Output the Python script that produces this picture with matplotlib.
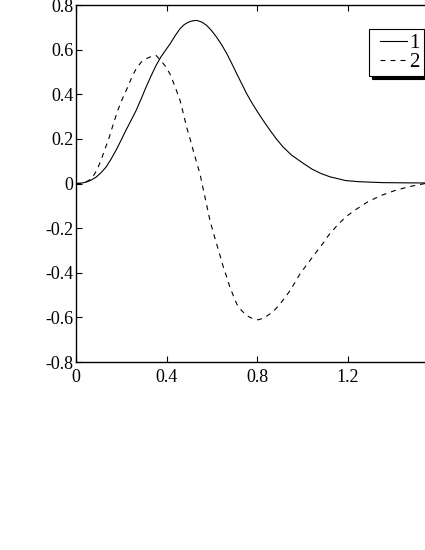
import matplotlib
matplotlib.use("Agg")
import matplotlib.pyplot as plt
from matplotlib.legend_handler import HandlerLine2D

plt.rcParams["font.family"] = ["Liberation Serif", "DejaVu Serif"]
plt.rcParams["axes.unicode_minus"] = False

# curve 1 (solid)
x1 = [0, 0.02, 0.044, 0.066, 0.088, 0.11, 0.132, 0.154, 0.176, 0.198, 0.22,
      0.243, 0.265, 0.287, 0.309, 0.331, 0.353, 0.375, 0.397, 0.415, 0.437,
      0.459, 0.477, 0.495, 0.514, 0.532, 0.554, 0.576, 0.598, 0.62, 0.643,
      0.665, 0.687, 0.709, 0.731, 0.753, 0.775, 0.797, 0.826, 0.856, 0.885,
      0.914, 0.95, 1.0, 1.04, 1.08, 1.12, 1.19, 1.25, 1.35, 1.45, 1.6]
y1 = [0, 0.001, 0.006, 0.015, 0.028, 0.048, 0.073, 0.108, 0.148, 0.192, 0.238,
      0.283, 0.327, 0.378, 0.432, 0.482, 0.529, 0.568, 0.600, 0.626, 0.662,
      0.694, 0.712, 0.723, 0.729, 0.731, 0.724, 0.709, 0.685, 0.656, 0.621,
      0.582, 0.538, 0.492, 0.447, 0.402, 0.363, 0.327, 0.282, 0.238, 0.198,
      0.163, 0.128, 0.092, 0.065, 0.045, 0.030, 0.013, 0.008, 0.004, 0.003, 0.002]

# curve 2 (dashed)
x2 = [0, 0.02, 0.04, 0.057, 0.073, 0.092, 0.11, 0.128, 0.147, 0.165, 0.184,
      0.206, 0.228, 0.246, 0.265, 0.287, 0.309, 0.331, 0.353, 0.375, 0.395,
      0.415, 0.437, 0.459, 0.474, 0.488, 0.503, 0.517, 0.532, 0.547, 0.561,
      0.576, 0.591, 0.605, 0.62, 0.635, 0.65, 0.665, 0.679, 0.694, 0.709,
      0.731, 0.753, 0.778, 0.804, 0.83, 0.856, 0.878, 0.9, 0.922, 0.944,
      0.966, 0.988, 1.01, 1.032, 1.054, 1.076, 1.098, 1.114, 1.15, 1.188,
      1.225, 1.261, 1.29, 1.35, 1.408, 1.47, 1.54, 1.6]
y2 = [0, 0.001, 0.005, 0.014, 0.028, 0.06, 0.103, 0.155, 0.208, 0.268, 0.327,
      0.383, 0.432, 0.476, 0.514, 0.543, 0.559, 0.569, 0.574, 0.55, 0.525,
      0.49, 0.434, 0.372, 0.312, 0.252, 0.2, 0.148, 0.095, 0.043, -0.024,
      -0.095, -0.166, -0.218, -0.27, -0.322, -0.375, -0.42, -0.465, -0.503, -0.54,
      -0.57, -0.592, -0.605, -0.611, -0.602, -0.584, -0.565, -0.54, -0.511, -0.48,
      -0.443, -0.405, -0.375, -0.345, -0.315, -0.286, -0.256, -0.232, -0.19, -0.151,
      -0.123, -0.099, -0.08, -0.052, -0.031, -0.014, 0.0, 0.004]

xticks = [0, 0.4, 0.8, 1.2]
xtick_labels = ["0", "0.4", "0.8", "1.2"]
yticks = [-0.8, -0.6, -0.4, -0.2, 0, 0.2, 0.4, 0.6, 0.8]
ytick_labels = ["-0.8", "-0.6", "-0.4", "-0.2", "0", "0.2", "0.4", "0.6", "0.8"]
legend_labels = ["1", "2"]

fig = plt.figure(figsize=(4.25, 5.5), dpi=100)
ax = fig.add_axes([0.1788, 0.3418, 0.8536, 0.6491])

line1, = ax.plot(x1, y1, color="black", linewidth=0.8, label=legend_labels[0])
line2, = ax.plot(x2, y2, color="black", linewidth=0.8, dashes=(4.5, 4.5), label=legend_labels[1])

ax.set_xlim(0, 1.6)
ax.set_ylim(-0.8, 0.8)
ax.set_xticks(xticks)
ax.set_xticklabels(xtick_labels)
ax.set_yticks(yticks)
ax.set_yticklabels(ytick_labels)
ax.tick_params(direction="in", length=4, width=0.8, labelsize=13, top=True, right=True)
ax.tick_params(axis="x", pad=5)
ax.tick_params(axis="y", pad=2)
for spine in ax.spines.values():
    spine.set_linewidth(1.0)

# handles pushed right a bit inside the box, like the original legend
handler = HandlerLine2D(xpad=0.32)
leg = ax.legend(loc="upper left", bbox_to_anchor=(0.808, 0.932), fontsize=15,
                frameon=True, fancybox=False, framealpha=1,
                shadow={"color": "black", "alpha": 1},
                edgecolor="black", handlelength=1.62, handletextpad=0.12,
                borderpad=0.19, labelspacing=0.0, borderaxespad=0,
                handler_map={line1: handler, line2: handler})
leg.get_frame().set_linewidth(0.8)

fig.savefig("out.png", dpi=100)
